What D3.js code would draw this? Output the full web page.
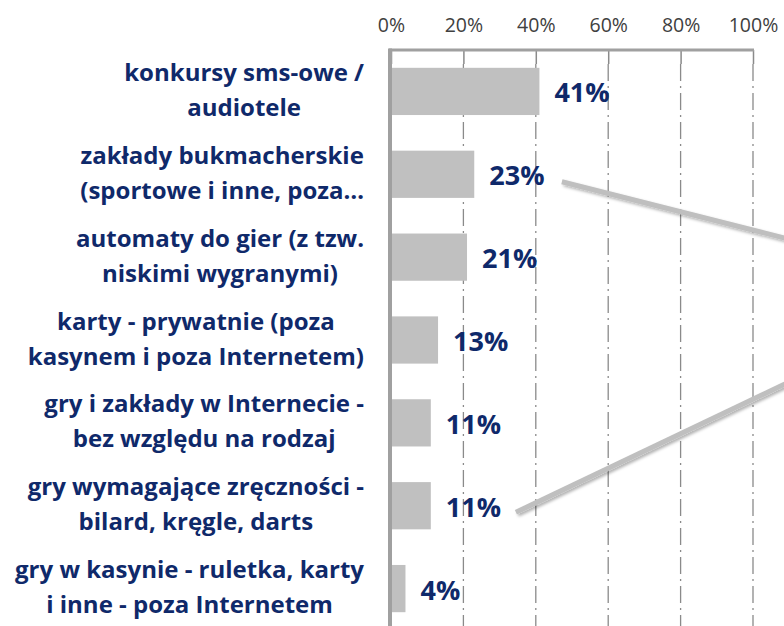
<!DOCTYPE html>
<html>
<head>
<meta charset="utf-8">
<script src="https://cdn.jsdelivr.net/npm/d3@7"></script>
<style>
	body { margin: 0; background: #fff; }
	svg { display: block; }
</style>
</head>
<body>
<script>
// categories, each split into its wrapped lines
var categoryLines = [
	[ 'konkursy sms-owe /', 'audiotele' ],
	[ 'zakłady bukmacherskie', '(sportowe i inne, poza…' ],
	[ 'automaty do gier (z tzw.', 'niskimi wygranymi)' ],
	[ 'karty - prywatnie (poza', 'kasynem i poza Internetem)' ],
	[ 'gry i zakłady w Internecie -', 'bez względu na rodzaj' ],
	[ 'gry wymagające zręczności -', 'bilard, kręgle, darts' ],
	[ 'gry w kasynie - ruletka, karty', 'i inne - poza Internetem' ]
];
var values = [ 41, 23, 21, 13, 11, 11, 4 ];
var tickValues = [ 0, 20, 40, 60, 80, 100 ];

// callout connectors: [percent, category position]
var connectorFrom = [ [ 47.2, 1.09 ], [ 34.5, 5.08 ] ];
var connectorTo = [ [ 108.8, 1.77 ], [ 108.8, 3.53 ] ];

var width = 784;
var height = 626;

var padding = {
	top: 50,
	left: 391,
	right: 31,
	bottom: -4
};

var navy = '#0f296a';
var font = '"Open Sans", sans-serif';

var svg = d3.select( 'body' ).append( 'svg' )
	.attr( 'width', width )
	.attr( 'height', height );

var defs = svg.append( 'defs' );
var shadow = defs.append( 'filter' ).attr( 'id', 'shadow' )
	.attr( 'x', '-10%' ).attr( 'y', '-20%' )
	.attr( 'width', '130%' ).attr( 'height', '150%' );
shadow.append( 'feDropShadow' )
	.attr( 'dx', 2 ).attr( 'dy', 2 )
	.attr( 'stdDeviation', 1.5 )
	.attr( 'flood-color', '#000' )
	.attr( 'flood-opacity', 0.3 );

var scales = {};

scales.x = d3.scaleLinear()
	.domain( [ 0, 100 ] )
	.range( [ padding.left, width - padding.right ] );

scales.y = d3.scaleBand()
	.domain( d3.range( values.length ) )
	.range( [ padding.top, height - padding.bottom ] )
	.paddingInner( 0.43 )
	.paddingOuter( 0.215 );

scales.pos = d3.scaleLinear()
	.domain( [ 0, values.length - 1 ] )
	.range( [
		scales.y( 0 ) + scales.y.bandwidth() / 2,
		scales.y( values.length - 1 ) + scales.y.bandwidth() / 2
	] );

var plotBottom = height - padding.bottom;

// gridlines (dash-dot)
svg.append( 'g' ).classed( 'grid', true )
	.selectAll( 'line' )
	.data( tickValues.slice( 1 ) )
	.enter()
	.append( 'line' )
	.attr( 'x1', function ( d ) { return scales.x( d ); } )
	.attr( 'x2', function ( d ) { return scales.x( d ); } )
	.attr( 'y1', padding.top + 14 )
	.attr( 'y2', plotBottom )
	.style( 'stroke', '#8a8a8a' )
	.style( 'stroke-width', 1.3 )
	.style( 'stroke-dasharray', '17,5,2,5' );

// bars
svg.append( 'g' ).classed( 'bars', true )
	.selectAll( 'rect' )
	.data( values )
	.enter()
	.append( 'rect' )
	.attr( 'x', scales.x( 0 ) )
	.attr( 'y', function ( d, i ) { return scales.y( i ); } )
	.attr( 'width', function ( d ) { return scales.x( d ) - scales.x( 0 ); } )
	.attr( 'height', scales.y.bandwidth() )
	.style( 'fill', '#c0c0c0' );

// top axis
var xAxis = d3.axisTop( scales.x )
	.tickValues( tickValues )
	.tickFormat( function ( d ) { return d + '%'; } )
	.tickSize( -14 )
	.tickPadding( 18 );

var axisG = svg.append( 'g' ).classed( 'axis', true )
	.attr( 'transform', 'translate(0,' + padding.top + ')' )
	.call( xAxis );

axisG.select( '.domain' ).remove();
axisG.selectAll( '.tick line' )
	.style( 'stroke', '#8a8a8a' )
	.style( 'stroke-width', 1.5 );
axisG.selectAll( '.tick text' )
	.style( 'font-family', font )
	.style( 'font-size', '19.5px' )
	.style( 'fill', '#404040' );

axisG.append( 'line' )
	.attr( 'x1', scales.x( 0 ) - 2 )
	.attr( 'x2', scales.x( 100 ) + 1 )
	.attr( 'y1', 0 )
	.attr( 'y2', 0 )
	.style( 'stroke', '#a0a0a0' )
	.style( 'stroke-width', 3 );

// left axis line
svg.append( 'line' )
	.attr( 'x1', scales.x( 0 ) - 1 )
	.attr( 'x2', scales.x( 0 ) - 1 )
	.attr( 'y1', padding.top - 1.5 )
	.attr( 'y2', plotBottom )
	.style( 'stroke', '#a0a0a0' )
	.style( 'stroke-width', 4 );

// category labels: lines centred within the block, block right-aligned
var labelRight = 364;
var lineHeight = 35;
var labelG = svg.append( 'g' ).classed( 'labels', true );

categoryLines.forEach( function ( lines, i ) {
	var g = labelG.append( 'g' );
	var texts = g.selectAll( 'text' )
		.data( lines )
		.enter()
		.append( 'text' )
		.attr( 'y', function ( d, j ) {
			return scales.pos( i ) + ( j - ( lines.length - 1 ) / 2 ) * lineHeight + 7;
		} )
		.style( 'font-family', font )
		.style( 'font-weight', 'bold' )
		.style( 'font-size', '24px' )
		.style( 'fill', navy )
		.attr( 'text-anchor', 'middle' )
		.text( function ( d ) { return d; } );
	var maxW = 0;
	texts.each( function () {
		maxW = Math.max( maxW, this.getComputedTextLength() );
	} );
	texts.attr( 'x', labelRight - maxW / 2 );
} );

// value labels
svg.append( 'g' ).classed( 'values', true )
	.selectAll( 'text' )
	.data( values )
	.enter()
	.append( 'text' )
	.attr( 'x', function ( d ) { return scales.x( d ) + 15; } )
	.attr( 'y', function ( d, i ) { return scales.pos( i ) + 11; } )
	.style( 'font-family', font )
	.style( 'font-weight', 'bold' )
	.style( 'font-size', '27px' )
	.style( 'fill', navy )
	.text( function ( d ) { return d + '%'; } );

// callout connectors
svg.append( 'g' ).classed( 'connectors', true )
	.selectAll( 'line' )
	.data( connectorFrom )
	.enter()
	.append( 'line' )
	.attr( 'x1', function ( d ) { return scales.x( d[0] ); } )
	.attr( 'y1', function ( d ) { return scales.pos( d[1] ); } )
	.attr( 'x2', function ( d, i ) { return scales.x( connectorTo[i][0] ); } )
	.attr( 'y2', function ( d, i ) { return scales.pos( connectorTo[i][1] ); } )
	.style( 'stroke', '#bfbfbf' )
	.style( 'stroke-width', 5 )
	.attr( 'filter', 'url(#shadow)' );
</script>
</body>
</html>
